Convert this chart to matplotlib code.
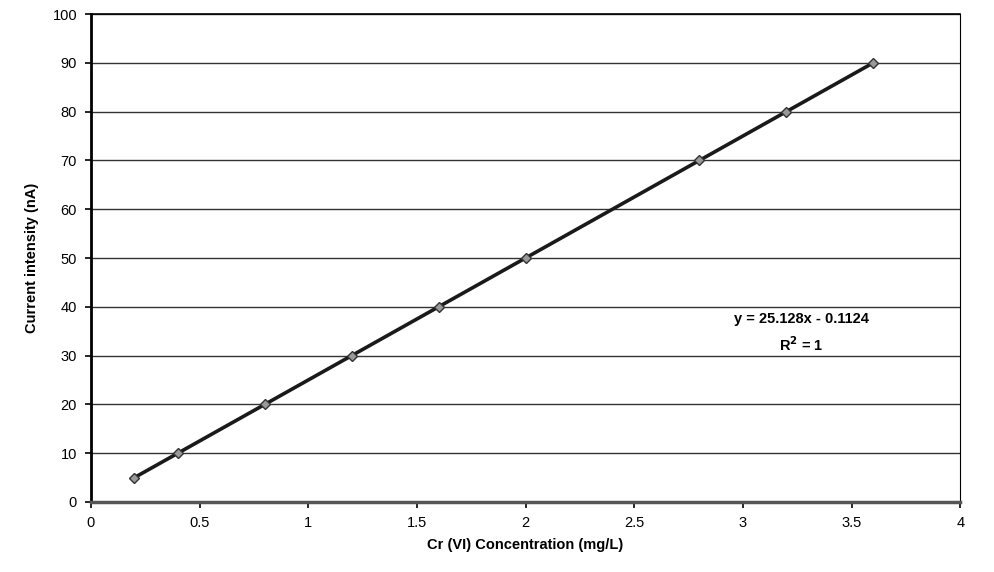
import matplotlib.pyplot as plt

# calibration points
conc = [0.2, 0.4, 0.8, 1.2, 1.6, 2.0, 2.8, 3.2, 3.6]
current = [5, 10, 20, 30, 40, 50, 70, 80, 90]

plt.rcParams["font.family"] = ["Liberation Sans", "DejaVu Sans"]

fig = plt.figure(figsize=(9.94, 5.72), dpi=100)
ax = fig.add_axes([0.0915, 0.1224, 0.8745, 0.8531])

ax.plot(conc, current, color="#1a1a1a", linewidth=2.6, marker="D", markersize=5,
        markerfacecolor="#999999", markeredgecolor="#333333", zorder=3)

ax.set_xlim(0, 4)
ax.set_ylim(0, 100)
ax.set_xticks([0, 0.5, 1, 1.5, 2, 2.5, 3, 3.5, 4])
ax.set_xticklabels(["0", "0.5", "1", "1.5", "2", "2.5", "3", "3.5", "4"])
ax.set_yticks(range(0, 101, 10))
ax.yaxis.grid(True, color="#333333", linewidth=1)
ax.set_axisbelow(True)

ax.spines["left"].set_linewidth(2)
ax.spines["bottom"].set_linewidth(2.5)
ax.spines["bottom"].set_color("#555555")
ax.spines["top"].set_linewidth(1.2)
ax.spines["right"].set_linewidth(0.8)
ax.tick_params(axis="both", labelsize=10.5, direction="out", length=4, width=1.2, pad=6)

ax.set_xlabel("Cr (VI) Concentration (mg/L)", fontsize=10.5, fontweight="bold", labelpad=6)
ax.set_ylabel("Current intensity (nA)", fontsize=10.5, fontweight="bold", labelpad=10)

ax.text(3.27, 37.6, "y = 25.128x - 0.1124", ha="center", va="center",
        fontsize=10.5, fontweight="bold")
ax.text(3.27, 32.2, "R$^\\mathbf{2}$ = 1", ha="center", va="center",
        fontsize=10.5, fontweight="bold")

fig.savefig("out.png", dpi=100)
